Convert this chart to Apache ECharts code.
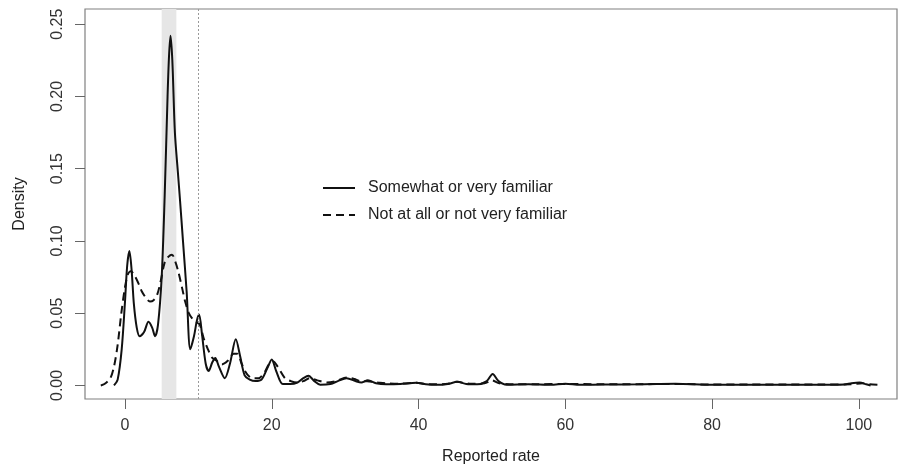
<!DOCTYPE html>
<html>
<head>
<meta charset="utf-8">
<script src="https://cdn.jsdelivr.net/npm/echarts@6/dist/echarts.min.js"></script>
<style>
  html, body { margin: 0; padding: 0; background: #fff; }
  #chart { width: 898px; height: 473px; }
</style>
</head>
<body>
<div id="chart"></div>
<script>
// density curve: somewhat or very familiar (solid)
var solidX = [-1.5, -1.0, -0.45, 0, 0.3, 0.6, 0.9, 1.2, 1.6, 2.0, 2.6, 3.2, 3.7, 4.1, 4.5, 5.0, 5.4, 5.8, 6.0, 6.2,
  6.45, 6.8, 7.2, 7.5, 7.9, 8.4, 8.9, 9.4, 9.8, 10.1, 10.5, 11.0, 11.4, 11.9, 12.3, 12.8, 13.6, 14.3, 15.1, 15.7,
  16.3, 17.0, 17.8, 18.6, 19.4, 20.0, 20.6, 21.5, 22.5, 23.5, 24.3, 25.0, 25.8, 26.6, 28, 29, 30.2, 31.4, 32.2, 33.1,
  34.2, 35.6, 37.5, 39.7, 41, 42.5, 44, 45.3, 46.5, 48, 49.3, 50.1, 50.9, 52, 55, 58, 60, 62, 65, 70,
  75, 80, 85, 90, 95, 98, 99, 100.1, 101, 101.6];
var solidY = [0, 0.004, 0.025, 0.058, 0.083, 0.093, 0.08, 0.057, 0.04, 0.034, 0.037, 0.044, 0.04, 0.034, 0.042, 0.075, 0.13, 0.2, 0.228, 0.242,
  0.225, 0.175, 0.148, 0.128, 0.1, 0.065, 0.025, 0.034, 0.045, 0.049, 0.035, 0.015, 0.01, 0.016, 0.019, 0.013, 0.005, 0.015, 0.032, 0.02,
  0.007, 0.004, 0.003, 0.004, 0.012, 0.018, 0.01, 0.001, 0.001, 0.002, 0.005, 0.0067, 0.003, 0.0005, 0.001, 0.003, 0.005, 0.003, 0.002, 0.0035,
  0.0015, 0.0008, 0.001, 0.0018, 0.0008, 0.0004, 0.001, 0.0025, 0.001, 0.0008, 0.003, 0.0079, 0.003, 0.0005, 0.0008, 0.0004, 0.0012, 0.0004, 0.0006, 0.0008,
  0.0012, 0.0005, 0.0005, 0.0005, 0.0004, 0.0006, 0.0015, 0.002, 0.0008, 0];

// density curve: not at all or not very familiar (dashed)
var dashX = [-3.3, -2.8, -2.0, -1.5, -1.0, -0.5, 0, 0.4, 0.8, 1.3, 1.8, 2.3, 2.8, 3.4, 3.9, 4.4, 4.9, 5.4, 5.9, 6.4,
  6.9, 7.3, 7.8, 8.2, 8.7, 9.2, 9.7, 10.2, 10.7, 11.3, 11.9, 12.5, 13.2, 14.0, 14.8, 15.3, 15.9, 16.6, 17.4, 18.2,
  19.0, 19.6, 20.2, 20.8, 21.8, 22.6, 23.4, 24.3, 25.2, 26.2, 27.5, 28.8, 30.2, 31.5, 32.0, 33.0, 34.5, 35.6, 37.5, 39.7,
  41, 42.5, 44, 45.2, 47, 49, 50, 51, 53, 56, 60, 65, 70, 75, 80, 85, 90, 95, 99, 100.5, 101.5, 102.8];
var dashY = [0, 0.001, 0.005, 0.013, 0.028, 0.05, 0.068, 0.077, 0.079, 0.076, 0.071, 0.065, 0.061, 0.058, 0.059, 0.063, 0.073, 0.085, 0.089, 0.0905,
  0.085, 0.078, 0.067, 0.058, 0.05, 0.046, 0.044, 0.042, 0.033, 0.025, 0.019, 0.017, 0.0145, 0.017, 0.022, 0.022, 0.015, 0.008, 0.005, 0.005,
  0.009, 0.0145, 0.0165, 0.013, 0.005, 0.003, 0.002, 0.003, 0.005, 0.0035, 0.002, 0.003, 0.0055, 0.004, 0.003, 0.0028, 0.002, 0.0015, 0.0012, 0.0018,
  0.001, 0.0008, 0.0012, 0.0025, 0.0012, 0.0015, 0.0035, 0.0015, 0.0008, 0.0008, 0.001, 0.0008, 0.0008, 0.001, 0.0006, 0.0006, 0.0006, 0.0006, 0.0008, 0.0015, 0.0008, 0.0003];

var xTicks = [0, 20, 40, 60, 80, 100];
var yTicks = [0, 0.05, 0.1, 0.15, 0.2, 0.25];
var band = [5, 7];
var refLine = 10;

function pairs(xs, ys) {
  return xs.map(function (x, i) { return [x, ys[i]]; });
}

var chart = echarts.init(document.getElementById("chart"));
var font = "'Liberation Sans', Arial, sans-serif";

var option = {
  animation: false,
  grid: {
    left: 85, top: 9, right: 1, bottom: 74,
    containLabel: false, outerBoundsMode: "none",
    show: true, borderColor: "#808080", borderWidth: 1.2
  },
  legend: {
    orient: "vertical",
    left: 317, top: 175,
    itemWidth: 32, itemHeight: 14, itemGap: 11,
    itemStyle: { opacity: 0 },
    textStyle: { fontFamily: font, fontSize: 16, color: "#222", padding: [0, 0, 0, 8] },
    data: ["Somewhat or very familiar", "Not at all or not very familiar"]
  },
  xAxis: {
    type: "value", min: -5.45, max: 105.2,
    name: "Reported rate", nameLocation: "middle", nameGap: 50,
    nameTextStyle: { fontFamily: font, fontSize: 16, color: "#222" },
    axisLine: { show: false, onZero: false },
    splitLine: { show: false },
    axisTick: { show: true, customValues: xTicks, length: 10, lineStyle: { color: "#666" } },
    axisLabel: { customValues: xTicks, margin: 19, fontFamily: font, fontSize: 16, color: "#333" }
  },
  yAxis: {
    type: "value", min: -0.0094, max: 0.2605,
    name: "Density", nameLocation: "middle", nameGap: 57, nameRotate: 90,
    nameTextStyle: { fontFamily: font, fontSize: 16, color: "#222" },
    axisLine: { show: false, onZero: false },
    splitLine: { show: false },
    axisTick: { show: true, customValues: yTicks, length: 10, lineStyle: { color: "#666" } },
    axisLabel: {
      customValues: yTicks, margin: 19, rotate: 90, fontFamily: font, fontSize: 16, color: "#333",
      formatter: function (v) { return v.toFixed(2); }
    }
  },
  series: [
    {
      name: "Somewhat or very familiar",
      type: "line",
      data: pairs(solidX, solidY),
      smooth: 0.3,
      showSymbol: false,
      symbol: "none",
      lineStyle: { color: "#111", width: 2 },
      itemStyle: { color: "#111" },
      markArea: {
        silent: true,
        itemStyle: { color: "#e6e6e6" },
        data: [[{ xAxis: band[0] }, { xAxis: band[1] }]]
      },
      markLine: {
        silent: true,
        symbol: "none",
        label: { show: false },
        lineStyle: { color: "#999", type: [2, 2], width: 1 },
        data: [{ xAxis: refLine }]
      },
      z: 3
    },
    {
      name: "Not at all or not very familiar",
      type: "line",
      data: pairs(dashX, dashY),
      smooth: 0.3,
      showSymbol: false,
      symbol: "none",
      lineStyle: { color: "#111", width: 2, type: [8, 5] },
      itemStyle: { color: "#111" },
      z: 3
    }
  ]
};

chart.setOption(option);
window.addEventListener("resize", function () {
  chart.resize();
});
</script>
</body>
</html>
